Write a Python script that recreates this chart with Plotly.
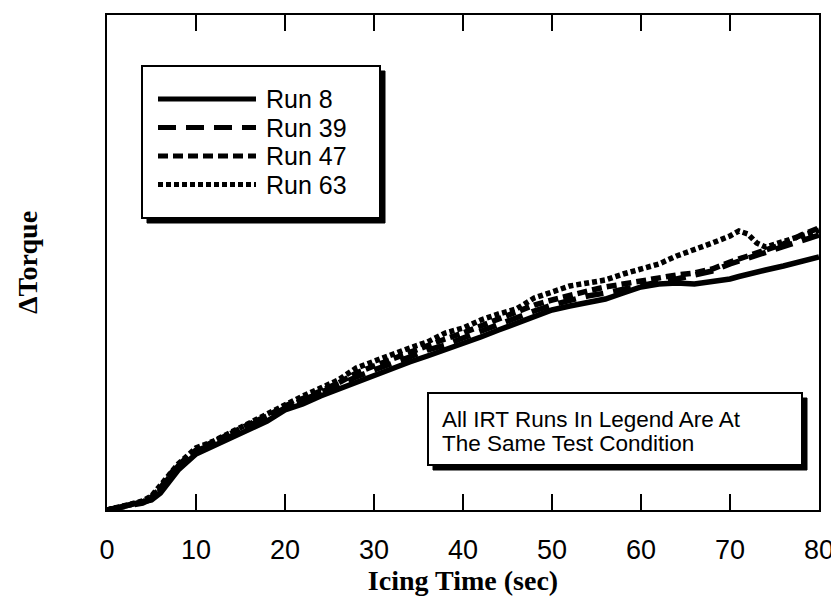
import plotly.graph_objects as go

# ---- data ----
icing_time = [0, 2, 4, 5, 6, 7, 8, 10, 12, 14, 16, 18, 20, 22, 24, 26, 28, 30, 32, 34, 36, 38,
              40, 42, 44, 46, 48, 50, 52, 54, 56, 58, 60, 62, 64, 66, 68, 70, 71, 72, 73, 74,
              76, 78, 80]

run_8 = [0, 0.8, 1.4, 2.0, 3.4, 5.8, 8.0, 11.2, 12.8, 14.4, 16.2, 17.8, 20.0, 21.2, 22.8, 24.2,
         25.6, 26.8, 28.2, 29.6, 30.8, 32.0, 33.4, 34.6, 36.0, 37.4, 38.8, 40.0, 40.8, 41.4,
         42.2, 43.4, 44.6, 45.2, 45.4, 45.2, 45.6, 46.2, 46.7, 47.2, 47.6, 48.0, 48.8, 49.6, 50.6]

run_39 = [0, 0.6, 1.4, 2.2, 4.0, 6.6, 8.8, 11.8, 13.4, 14.8, 17.0, 18.4, 20.4, 22.0, 23.4, 25.0,
          26.6, 28.0, 29.2, 30.6, 32.0, 33.0, 34.4, 35.8, 37.0, 38.6, 39.8, 41.0, 42.0, 42.8,
          43.4, 44.2, 45.0, 45.6, 46.2, 47.0, 47.8, 49.2, 49.8, 50.4, 51.0, 51.6, 52.8, 54.0, 55.0]

run_47 = [0, 0.8, 1.6, 2.6, 4.4, 7.0, 9.0, 12.0, 13.6, 15.4, 17.2, 18.8, 20.8, 22.2, 23.8, 25.4,
          27.4, 28.8, 30.2, 31.6, 32.8, 34.2, 35.4, 36.8, 38.2, 39.6, 41.0, 42.0, 43.0, 43.8,
          44.6, 45.2, 46.0, 46.6, 47.0, 47.4, 48.2, 49.6, 50.2, 50.8, 51.6, 52.2, 53.2, 55.0, 56.4]

run_63 = [0, 1.0, 1.8, 2.8, 4.8, 7.2, 9.2, 12.4, 13.8, 15.6, 17.4, 19.2, 21.2, 22.8, 24.4, 26.0,
          28.4, 29.8, 31.2, 32.4, 33.6, 35.4, 36.4, 38.0, 39.2, 40.2, 42.4, 43.6, 44.8, 45.4,
          46.0, 47.2, 48.2, 49.2, 50.8, 52.0, 53.4, 54.8, 55.8, 55.2, 53.4, 52.6, 53.6, 54.8, 56.0]

series_names = ["Run 8", "Run 39", "Run 47", "Run 63"]
series_values = [run_8, run_39, run_47, run_63]
series_dash = ["solid", "18px,10px", "10px,5px", "5px,3px"]

x_ticks = [0, 10, 20, 30, 40, 50, 60, 70, 80]
note_lines = ["All IRT Runs In Legend Are At", "The Same Test Condition"]

# ---- layout geometry (pixels, in the 839x600 window) ----
OFF = 8  # default page margin of the html body
W, H = 839 - OFF, 600 - OFF
ML, MR, MT, MB = 107 - OFF, 20, 15 - OFF, 90
PW, PH = W - ML - MR, H - MT - MB


def px(x):
    return (x - OFF - ML) / PW


def py(y):
    return (H + OFF - MB - y) / PH


fig = go.Figure()
for name, vals, dash in zip(series_names, series_values, series_dash):
    fig.add_trace(go.Scatter(x=icing_time, y=vals, mode="lines", name=name,
                             line=dict(color="black", width=5.5, dash=dash),
                             showlegend=False))

shapes = []
annotations = []


def shadow_box(x0, y0, x1, y1, off=5):
    shapes.append(dict(type="rect", xref="paper", yref="paper",
                       x0=px(x0 + off), x1=px(x1 + off), y0=py(y1 + off), y1=py(y0 + off),
                       fillcolor="black", line=dict(color="black", width=1), layer="above"))
    shapes.append(dict(type="rect", xref="paper", yref="paper",
                       x0=px(x0), x1=px(x1), y0=py(y1), y1=py(y0),
                       fillcolor="white", line=dict(color="black", width=2), layer="above"))


# legend box
shadow_box(142, 66, 380, 218)
rows = [99, 127.5, 156, 184.5]
for name, dash, ry in zip(series_names, series_dash, rows):
    shapes.append(dict(type="line", xref="paper", yref="paper",
                       x0=px(158), x1=px(256), y0=py(ry), y1=py(ry),
                       line=dict(color="black", width=5, dash=dash), layer="above"))
    annotations.append(dict(xref="paper", yref="paper", x=px(264), y=py(ry),
                            xanchor="left", yanchor="middle", text=name, showarrow=False,
                            font=dict(family="Liberation Sans, Arial", size=25, color="black")))

# note box
shadow_box(428, 393, 802, 465)
for line, ly in zip(note_lines, [420, 443]):
    annotations.append(dict(xref="paper", yref="paper", x=px(440), y=py(ly),
                            xanchor="left", yanchor="middle", text=line, showarrow=False,
                            font=dict(family="Liberation Sans, Arial", size=22.5, color="black")))

fig.update_layout(
    width=W, height=H,
    margin=dict(l=ML, r=MR, t=MT, b=MB, autoexpand=False),
    paper_bgcolor="white", plot_bgcolor="white",
    shapes=shapes, annotations=annotations,
    showlegend=False,
    xaxis=dict(range=[0, 80], tickvals=x_ticks, ticktext=[str(v) for v in x_ticks],
               ticks="inside", ticklen=16, tickwidth=2, tickcolor="black",
               showline=True, linecolor="black", linewidth=2, mirror="ticks",
               showgrid=False, zeroline=False, ticklabelstandoff=15,
               tickfont=dict(family="Liberation Sans, Arial", size=27, color="black"),
               title=dict(text="Icing Time (sec)", standoff=0,
                          font=dict(family="Liberation Serif, Times New Roman", size=28,
                                    color="black", weight="bold"))),
    yaxis=dict(range=[0, 99], showticklabels=False, ticks="",
               showline=True, linecolor="black", linewidth=2, mirror=True,
               showgrid=False, zeroline=False,
               title=dict(text="ΔTorque", standoff=59,
                          font=dict(family="Liberation Serif, Times New Roman", size=28,
                                    color="black", weight="bold"))),
)

fig.write_html("out.html")
